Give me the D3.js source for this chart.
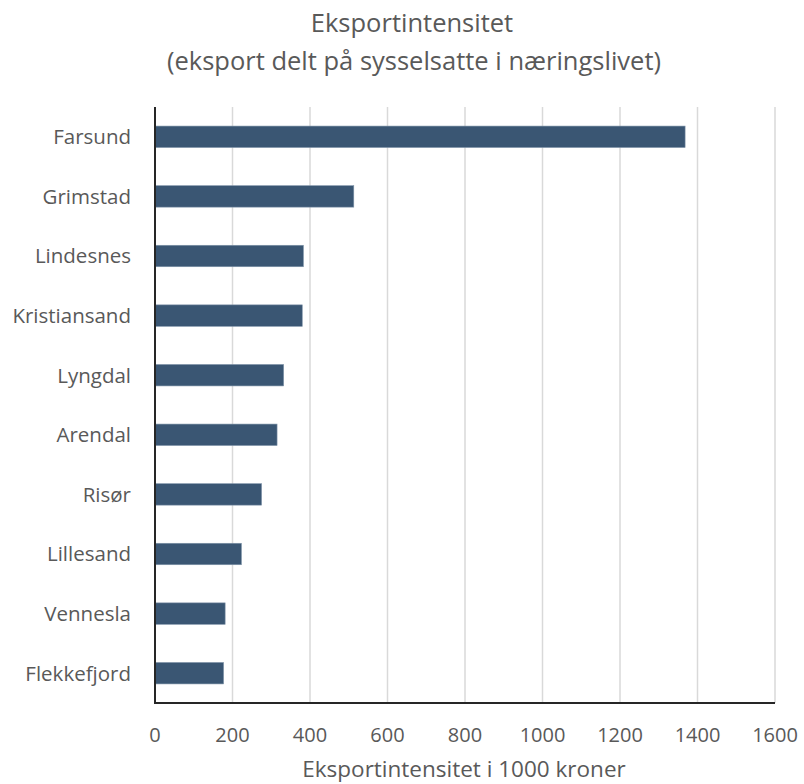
<!DOCTYPE html>
<html><head><meta charset="utf-8">
<script src="https://cdn.jsdelivr.net/npm/d3@7"></script>
<style>body{margin:0;background:#fff;} text{font-family:"Open Sans",sans-serif;fill:#595959;}</style>
</head><body>
<svg id="c" width="804" height="784"></svg>
<script>
const categories = ["Farsund","Grimstad","Lindesnes","Kristiansand","Lyngdal","Arendal","Risør","Lillesand","Vennesla","Flekkefjord"];
const values = [1368, 513, 383, 380, 332, 315, 275, 223, 181, 177];
const xTicks = [0,200,400,600,800,1000,1200,1400,1600];
const titleLines = ["Eksportintensitet","(eksport delt på sysselsatte i næringslivet)"];
const xTitle = "Eksportintensitet i 1000 kroner";

const svg = d3.select("#c");
const m = {left:155, right:775, top:107, bottom:703};
const x = d3.scaleLinear().domain([0,1600]).range([m.left, m.right]);
const y = d3.scaleBand().domain(categories).range([m.top, m.bottom]).paddingInner(0.64).paddingOuter(0.32);

// gridlines
svg.append("g").selectAll("line").data(xTicks.slice(1)).join("line")
  .attr("x1", d=>x(d)).attr("x2", d=>x(d)).attr("y1", m.top).attr("y2", m.bottom)
  .attr("stroke", "#d9d9d9").attr("stroke-width", 1.5);

// bars
svg.append("g").selectAll("rect").data(categories).join("rect")
  .attr("x", x(0)).attr("y", d=>y(d))
  .attr("width", (d,i)=>x(values[i])-x(0)).attr("height", y.bandwidth())
  .attr("fill", "#3a5673").attr("stroke","#7f93a8").attr("stroke-width",0.6);

// axes lines
svg.append("line").attr("x1", m.left).attr("x2", m.left).attr("y1", m.top).attr("y2", m.bottom+1)
  .attr("stroke","#262626").attr("stroke-width",2);
svg.append("line").attr("x1", m.left-1).attr("x2", m.right).attr("y1", m.bottom).attr("y2", m.bottom)
  .attr("stroke","#262626").attr("stroke-width",2);

// category labels
svg.append("g").selectAll("text").data(categories).join("text")
  .attr("x", 131).attr("y", d=>y(d)+y.bandwidth()/2).attr("dy","0.36em")
  .attr("text-anchor","end").attr("font-size",20.5).text(d=>d);

// tick labels
svg.append("g").selectAll("text").data(xTicks).join("text")
  .attr("x", d=>x(d)).attr("y", 742).attr("text-anchor","middle").attr("font-size",20).text(d=>d);

// titles
svg.append("text").attr("x",412).attr("y",32).attr("text-anchor","middle").attr("font-size",25.5).text(titleLines[0]);
svg.append("text").attr("x",414).attr("y",70).attr("text-anchor","middle").attr("font-size",25.5).text(titleLines[1]);
svg.append("text").attr("x",464).attr("y",777).attr("text-anchor","middle").attr("font-size",22.5).text(xTitle);
</script>
</body></html>
